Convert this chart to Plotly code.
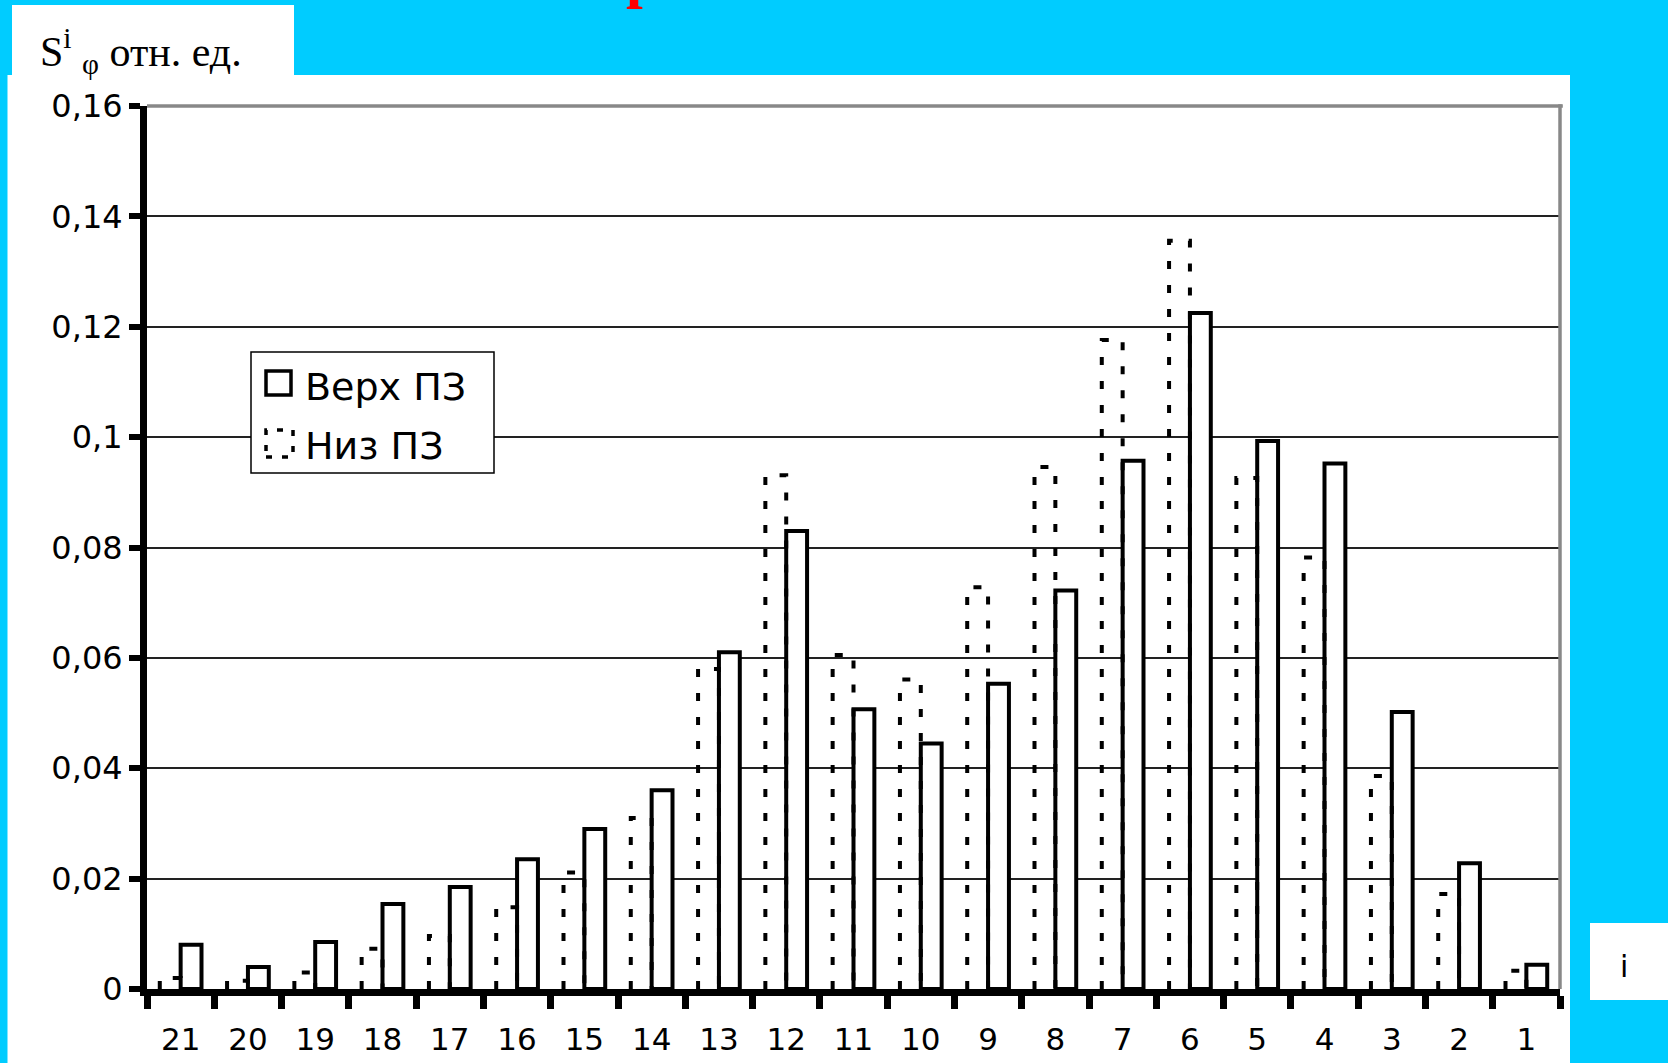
import plotly.graph_objects as go

# ---- data ----
categories = ["21", "20", "19", "18", "17", "16", "15", "14", "13", "12", "11",
              "10", "9", "8", "7", "6", "5", "4", "3", "2", "1"]
verh_pz = [0.008, 0.004, 0.0085, 0.0154, 0.0185, 0.0235, 0.029, 0.036, 0.061, 0.083, 0.0507,
           0.0445, 0.0553, 0.0722, 0.0957, 0.1225, 0.0993, 0.0952, 0.0502, 0.0228, 0.0044]
niz_pz = [0.002, 0.0015, 0.003, 0.0073, 0.0096, 0.0148, 0.0211, 0.031, 0.058, 0.0931, 0.0605,
          0.0561, 0.0728, 0.0946, 0.1176, 0.1356, 0.0926, 0.0782, 0.0386, 0.0172, 0.0033]
y_tickvals = [0, 0.02, 0.04, 0.06, 0.08, 0.1, 0.12, 0.14, 0.16]
y_ticktext = ["0", "0,02", "0,04", "0,06", "0,08", "0,1", "0,12", "0,14", "0,16"]
series_names = ["Верх ПЗ", "Низ ПЗ"]

# ---- geometry ----
FW, FH = 1668, 1063
L, R, T, B = 147, 108, 106, 74
PW, PH = FW - L - R, FH - T - B
BW = 0.31
CYAN = "#00CCFF"


def px(x):
    return (x - L) / PW


def py(y):
    return 1 - (y - T) / PH


pos = list(range(len(categories)))

fig = go.Figure()

# Низ ПЗ: transparent bar + dotted outline
fig.add_trace(go.Bar(x=pos, y=niz_pz, width=BW, offset=-BW, name=series_names[1],
                     marker=dict(color="rgba(0,0,0,0)", line=dict(width=0)),
                     showlegend=False))
xs, ys = [], []
for p, v in zip(pos, niz_pz):
    xs += [p - BW, p - BW, p, p, None]
    ys += [0, v, v, 0, None]
fig.add_trace(go.Scatter(x=xs, y=ys, mode="lines", showlegend=False, hoverinfo="skip",
                         line=dict(color="black", width=4, dash="8px,16px")))

# Верх ПЗ: solid outlined bars
fig.add_trace(go.Bar(x=pos, y=verh_pz, width=BW, offset=0, name=series_names[0],
                     marker=dict(color="white", line=dict(color="black", width=4)),
                     showlegend=False))

shapes = [
    # white panel
    dict(type="rect", xref="paper", yref="paper", x0=px(7.5), x1=px(1570), y0=py(1075), y1=py(75),
         fillcolor="white", line=dict(width=0), layer="below"),
    # label box
    dict(type="rect", xref="paper", yref="paper", x0=px(12), x1=px(294), y0=py(80), y1=py(5),
         fillcolor="white", line=dict(width=0), layer="below"),
    # i box
    dict(type="rect", xref="paper", yref="paper", x0=px(1590), x1=px(1680), y0=py(1000), y1=py(923),
         fillcolor="white", line=dict(width=0), layer="below"),
    # gray border (top & right)
    dict(type="line", xref="paper", yref="paper", x0=0, x1=1.002, y0=1, y1=1,
         line=dict(color="#888888", width=3.5), layer="above"),
    dict(type="line", xref="paper", yref="paper", x0=1.0, x1=1.0, y0=0, y1=1.002,
         line=dict(color="#888888", width=3.5), layer="above"),
    # legend box
    dict(type="rect", xref="paper", yref="paper", x0=px(251), x1=px(494), y0=py(473), y1=py(352),
         fillcolor="white", line=dict(color="black", width=1.5), layer="above"),
    dict(type="rect", xref="paper", yref="paper", x0=px(266), x1=px(291), y0=py(395), y1=py(371),
         fillcolor="white", line=dict(color="black", width=3.5), layer="above"),
    dict(type="rect", xref="paper", yref="paper", x0=px(266), x1=px(293), y0=py(457), y1=py(430),
         fillcolor="white", line=dict(color="black", width=3.5, dash="6px,10px"), layer="above"),
]

annotations = [
    dict(text=series_names[0], xref="paper", yref="paper", x=px(303), y=py(387), xanchor="left",
         yanchor="middle", showarrow=False, font=dict(family="DejaVu Sans", size=38, color="black")),
    dict(text=series_names[1], xref="paper", yref="paper", x=px(303), y=py(446), xanchor="left",
         yanchor="middle", showarrow=False, font=dict(family="DejaVu Sans", size=38, color="black")),
    dict(text="S<sup>i</sup> <sub>φ</sub> отн. ед.", xref="paper", yref="paper", x=px(38), y=py(51),
         xanchor="left", yanchor="middle", showarrow=False,
         font=dict(family="Liberation Serif", size=42, color="black")),
    dict(text="i", xref="paper", yref="paper", x=px(1624), y=py(966), xanchor="center",
         yanchor="middle", showarrow=False, font=dict(family="DejaVu Sans", size=30, color="black")),
    dict(text="<b>р</b>", xref="paper", yref="paper", x=px(642), y=py(11), xanchor="center",
         yanchor="bottom", showarrow=False, font=dict(family="Liberation Serif", size=60, color="red")),
]

fig.update_layout(
    width=FW, height=FH,
    margin=dict(l=L, r=R, t=T, b=B, pad=0, autoexpand=False),
    paper_bgcolor=CYAN, plot_bgcolor="white",
    barmode="overlay",
    showlegend=False,
    shapes=shapes, annotations=annotations,
    font=dict(family="DejaVu Sans", size=30, color="black"),
)
fig.update_xaxes(
    automargin=False,
    range=[-0.5, len(categories) - 0.5], tickmode="array", tickvals=pos, ticktext=categories,
    ticks="", showgrid=False, zeroline=False, showline=True, linewidth=7, linecolor="black",
    ticklabelstandoff=17, tickfont=dict(family="DejaVu Sans", size=31),
    minor=dict(tickmode="array", tickvals=[p - 0.5 for p in pos] + [len(pos) - 0.5],
               ticks="outside", ticklen=13, tickwidth=7, tickcolor="black", showgrid=False),
)
fig.update_yaxes(
    automargin=False,
    range=[0, 0.16], tickmode="array", tickvals=y_tickvals, ticktext=y_ticktext,
    showgrid=True, gridcolor="#222222", gridwidth=1.5, zeroline=False,
    showline=True, linewidth=7, linecolor="black",
    ticks="outside", ticklen=11, tickwidth=6, tickcolor="black",
    tickfont=dict(family="DejaVu Sans", size=32),
)

fig.write_html(
    "out.html",
    config={"displayModeBar": False},
    post_script="document.body.style.margin='0px';document.body.style.background='#00CCFF';",
)
